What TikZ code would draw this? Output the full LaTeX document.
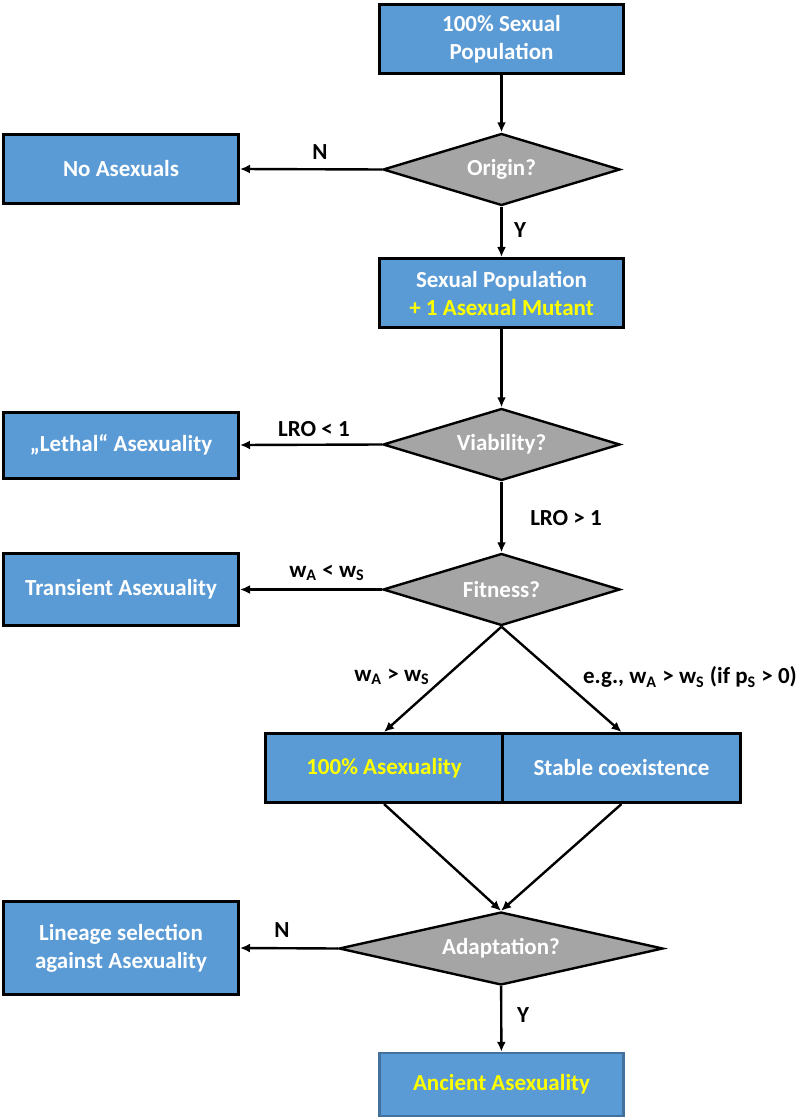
\documentclass[tikz,border=0pt]{standalone}
\usepackage{fontspec}
\setmainfont{Carlito}
\usetikzlibrary{shapes.geometric,arrows.meta}
\definecolor{boxblue}{HTML}{5B9BD5}
\definecolor{decgray}{HTML}{A5A5A5}
\definecolor{hiyellow}{HTML}{FFFF00}
\definecolor{edgeblue}{HTML}{41719C}

\begin{document}
\begin{tikzpicture}[x=0.5pt, y=-0.5pt,
		font=\fontsize{11.5}{14}\selectfont\bfseries,
		box/.style={draw=black, line width=1.5pt, fill=boxblue, text=white, align=center,
			inner sep=0pt, minimum width=122pt, minimum height=34.5pt},
		sidebox/.style={box, minimum width=117.5pt},
		decision/.style={diamond, draw=black, line width=1.2pt, fill=decgray, text=white,
			inner sep=0pt, aspect=3, minimum width=118.5pt, minimum height=36pt},
		arr/.style={-{Latex[length=5pt,width=4.5pt]}, line width=1.2pt}]
			\useasboundingbox (0, 0) rectangle (796, 1118);
			
			% main column
			\node[box] (sexpop) at (501.5, 39) {100\% Sexual\\Population};
			\node[decision] (origin) at (501.5, 169.5) {Origin?};
			\node[box] (mutant) at (501.5, 293) {Sexual Population\\\textcolor{hiyellow}{+ 1 Asexual Mutant}};
			\node[decision] (viab) at (501.5, 444.5) {Viability?};
			\node[decision] (fit) at (501.5, 589.5) {Fitness?};
			\node[box, minimum width=118.75pt, text=hiyellow] (asex) at (384, 768) {100\% Asexuality};
			\node[box, minimum width=118.75pt] (coex) at (621.5, 768) {Stable coexistence};
			\node[decision, minimum width=162pt, minimum height=36.5pt, aspect=4.4] (adapt) at (501, 948.5) {Adaptation?};
			\node[box, draw=edgeblue, line width=1.2pt, minimum height=31.5pt, text=hiyellow] (ancient) at (501.5, 1084.5) {Ancient Asexuality};
			
			% dead ends
			\node[sidebox] (noasex) at (121, 169) {No Asexuals};
			\node[sidebox, minimum height=33pt] (lethal) at (121, 445) {„Lethal“ Asexuality};
			\node[sidebox, minimum height=36pt] (trans) at (121, 589.5) {Transient Asexuality};
			\node[sidebox, minimum height=46.5pt] (lineage) at (121, 948) {Lineage selection\\against Asexuality};
			
			% labels
			\node (n1) at (320, 152) {N};
			\node (y1) at (520, 230) {Y};
			\node (lro1) at (314, 429) {LRO < 1};
			\node (lro2) at (566, 518) {LRO > 1};
			\node (wless) at (327, 573) {w\textsubscript{A} < w\textsubscript{S}};
			\node (wmore) at (392, 677) {w\textsubscript{A} > w\textsubscript{S}};
			\node (eg) at (690, 677) {e.g., w\textsubscript{A} > w\textsubscript{S} (if p\textsubscript{S} > 0)};
			\node (n2) at (282, 930) {N};
			\node (y2) at (523, 1015) {Y};
			
			\draw[arr] (sexpop) -- (origin);
			\draw[arr] (origin) -- (mutant);
			\draw[arr] (origin.west) -- (noasex.east);
			\draw[arr] (mutant) -- (viab);
			\draw[arr] (viab.west) -- (lethal.east);
			\draw[arr] (viab) -- (fit);
			\draw[arr] (fit.west) -- (trans.east);
			\draw[arr] (fit.south) -- (asex.north);
			\draw[arr] (fit.south) -- (coex.north);
			\draw[arr] (asex.south) -- (adapt.north);
			\draw[arr] (coex.south) -- (adapt.north);
			\draw[arr] (adapt.west) -- (lineage.east);
			\draw[arr] (adapt) -- (ancient);
		\end{tikzpicture}
\end{document}
